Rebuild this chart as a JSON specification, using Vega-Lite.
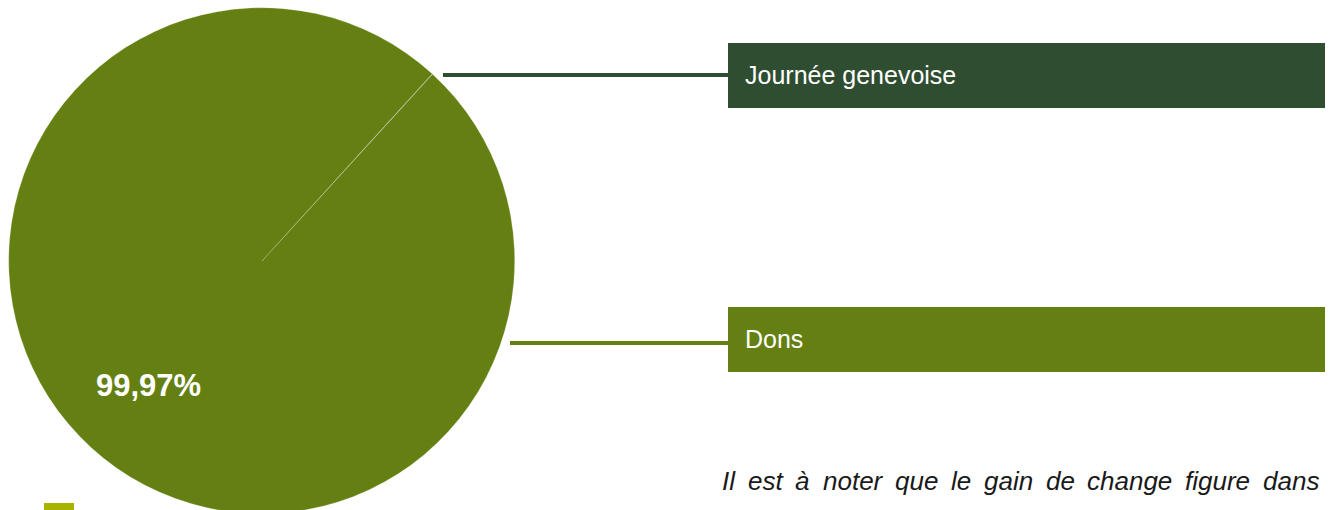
{
  "$schema": "https://vega.github.io/schema/vega-lite/v6.json",
  "width": 1330,
  "height": 510,
  "padding": 0,
  "autosize": "none",
  "config": {"view": {"stroke": null}},
  "datasets": {
    "pie": [
      {"cat": "Journée genevoise", "share": 0.03, "cx": 262, "cy": 261},
      {"cat": "Dons", "share": 99.97, "cx": 262, "cy": 261}
    ],
    "leaders": [
      {"cat": "Journée genevoise", "x": 443, "x2": 728, "y": 75},
      {"cat": "Dons", "x": 510, "x2": 728, "y": 343}
    ],
    "boxes": [
      {"cat": "Journée genevoise", "x": 728, "x2": 1325, "y": 43, "y2": 108, "ty": 76},
      {"cat": "Dons", "x": 728, "x2": 1325, "y": 307, "y2": 372, "ty": 340}
    ],
    "pct": [{"label": "99,97%", "x": 96, "y": 387}],
    "note": [
      {"word": "Il", "x": 722, "y": 490},
      {"word": "est", "x": 748, "y": 490},
      {"word": "à", "x": 795, "y": 490},
      {"word": "noter", "x": 823, "y": 490},
      {"word": "que", "x": 895, "y": 490},
      {"word": "le", "x": 951, "y": 490},
      {"word": "gain", "x": 984, "y": 490},
      {"word": "de", "x": 1046, "y": 490},
      {"word": "change", "x": 1087, "y": 490},
      {"word": "figure", "x": 1185, "y": 490},
      {"word": "dans", "x": 1263, "y": 490}
    ],
    "glyph": [{"x": 44, "x2": 74, "y": 503, "y2": 515}]
  },
  "layer": [
    {
      "data": {"name": "pie"},
      "mark": {"type": "arc", "outerRadius": 253, "stroke": "#ffffff", "strokeWidth": 0.6, "strokeOpacity": 0.35},
      "encoding": {
        "theta": {"field": "share", "type": "quantitative", "stack": true, "scale": {"range": [0.738, 7.0212]}},
        "order": {"field": "share", "type": "quantitative", "sort": "ascending"},
        "x": {"field": "cx", "type": "quantitative", "scale": {"domain": [0, 1330], "nice": false, "zero": false}, "axis": null},
        "y": {"field": "cy", "type": "quantitative", "scale": {"domain": [0, 510], "nice": false, "zero": false, "reverse": true}, "axis": null},
        "color": {"field": "cat", "type": "nominal", "scale": {"domain": ["Journée genevoise", "Dons"], "range": ["#2f4e31", "#648013"]}, "legend": null}
      }
    },
    {
      "data": {"name": "leaders"},
      "mark": {"type": "rule", "strokeWidth": 4},
      "encoding": {
        "x": {"field": "x", "type": "quantitative"},
        "x2": {"field": "x2"},
        "y": {"field": "y", "type": "quantitative"},
        "color": {"field": "cat", "type": "nominal", "legend": null}
      }
    },
    {
      "data": {"name": "boxes"},
      "mark": {"type": "rect"},
      "encoding": {
        "x": {"field": "x", "type": "quantitative"},
        "x2": {"field": "x2"},
        "y": {"field": "y", "type": "quantitative"},
        "y2": {"field": "y2"},
        "color": {"field": "cat", "type": "nominal", "legend": null}
      }
    },
    {
      "data": {"name": "boxes"},
      "mark": {"type": "text", "align": "left", "baseline": "middle", "dx": 17, "fontSize": 25, "font": "Liberation Sans", "color": "#ffffff"},
      "encoding": {
        "x": {"field": "x", "type": "quantitative"},
        "y": {"field": "ty", "type": "quantitative"},
        "text": {"field": "cat", "type": "nominal"}
      }
    },
    {
      "data": {"name": "pct"},
      "mark": {"type": "text", "align": "left", "baseline": "middle", "fontSize": 31, "fontWeight": "bold", "font": "Liberation Sans", "color": "#ffffff"},
      "encoding": {
        "x": {"field": "x", "type": "quantitative"},
        "y": {"field": "y", "type": "quantitative"},
        "text": {"field": "label", "type": "nominal"}
      }
    },
    {
      "data": {"name": "note"},
      "mark": {"type": "text", "align": "left", "baseline": "alphabetic", "fontSize": 26, "fontStyle": "italic", "font": "Liberation Sans", "color": "#1a1a1a"},
      "encoding": {
        "x": {"field": "x", "type": "quantitative"},
        "y": {"field": "y", "type": "quantitative"},
        "text": {"field": "word", "type": "nominal"}
      }
    },
    {
      "data": {"name": "glyph"},
      "mark": {"type": "rect", "color": "#a8b300"},
      "encoding": {
        "x": {"field": "x", "type": "quantitative"},
        "x2": {"field": "x2"},
        "y": {"field": "y", "type": "quantitative"},
        "y2": {"field": "y2"}
      }
    }
  ]
}
